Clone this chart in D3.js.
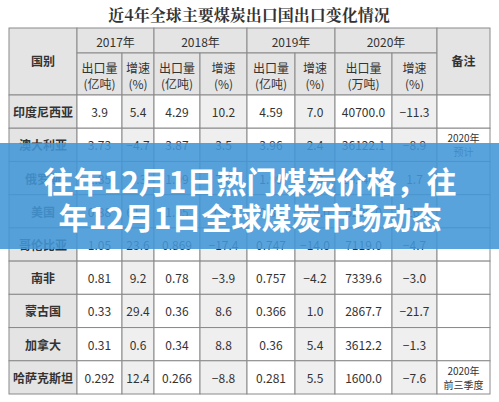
<!DOCTYPE html>
<html><head><meta charset="utf-8">
<script src="https://cdn.jsdelivr.net/npm/d3@7"></script>
<style>body{margin:0;background:#fff}svg{display:block}</style>
</head><body><svg id="c"></svg>
<script>
const years = ["2017年", "2018年", "2019年", "2020年"];
const subHeads = [["出口量", "(亿吨)"], ["增速", "(%)"], ["出口量", "(亿吨)"], ["增速", "(%)"],
                  ["出口量", "(亿吨)"], ["增速", "(%)"], ["出口量", "(万吨)"], ["增速", "(%)"]];
const countries = ["印度尼西亚", "澳大利亚", "俄罗斯", "美国", "哥伦比亚", "南非", "蒙古国", "加拿大", "哈萨克斯坦"];
const values = [
  ["3.9", "5.4", "4.29", "10.2", "4.59", "7.0", "40700.0", "−11.3"],
  ["3.73", "−4.7", "3.87", "3.5", "3.96", "2.4", "36122.1", "−8.9"],
  ["1.85", "8.3", "1.99", "7.6", "1.99", "0.0", "20240.0", "1.7"],
  ["0.88", "61.0", "1.05", "19.3", "0.85", "−19.0", "6290.0", "−26.0"],
  ["1.05", "23.6", "0.869", "−17.4", "0.747", "−14.0", "7119.0", "−4.7"],
  ["0.81", "9.2", "0.78", "−3.9", "0.757", "−4.2", "7339.6", "−3.0"],
  ["0.33", "29.4", "0.36", "8.6", "0.366", "1.0", "2867.7", "−21.7"],
  ["0.31", "0.6", "0.34", "8.8", "0.36", "5.4", "3612.2", "−1.3"],
  ["0.292", "12.4", "0.266", "−8.8", "0.281", "5.5", "1600.0", "−7.6"]
];
const notes = [null, ["2020年", "预计"], null, null, null, null, null, null, ["2020年", "前三季度"]];
const colEdges = [9, 77, 122, 154, 200, 247, 295, 335, 392, 437, 490];

const W = 499, H = 402;
const svg = d3.select("#c").attr("width", W).attr("height", H);
const font = "'Noto Sans CJK SC', sans-serif";
const rowY = d3.scaleLinear().domain([0, countries.length]).range([95, 394]);

svg.append("text").attr("x", 249).attr("y", 21).attr("text-anchor", "middle")
  .style("font-family", "'Noto Serif CJK SC', 'Noto Sans CJK SC', serif").style("font-weight", 700)
  .style("font-size", "16px").attr("fill", "#333").text("近4年全球主要煤炭出口国出口变化情况");

const g = svg.append("g");
const grey = "#e4e4e4", lite = "#efefef";
const cell = (x0, x1, y0, y1, fill) => g.append("rect").attr("x", x0).attr("y", y0)
  .attr("width", x1 - x0).attr("height", y1 - y0).attr("fill", fill)
  .attr("stroke", "#8a8a8a").attr("stroke-width", 1);
const txt = (x, y, s, size, w) => g.append("text").attr("x", x).attr("y", y).attr("text-anchor", "middle")
  .attr("dominant-baseline", "central").style("font-family", font).style("font-size", size + "px")
  .style("font-weight", w || 400).attr("fill", "#333").text(s);

// header
cell(colEdges[0], colEdges[1], 28, 95, grey);
txt(43, 60, "国别", 12, 700);
years.forEach((y, i) => {
  cell(colEdges[1 + 2 * i], colEdges[3 + 2 * i], 28, 53, grey);
  txt((colEdges[1 + 2 * i] + colEdges[3 + 2 * i]) / 2, 41, y, 12);
});
subHeads.forEach((s, i) => {
  const x0 = colEdges[1 + i], x1 = colEdges[2 + i];
  cell(x0, x1, 53, 95, grey);
  txt((x0 + x1) / 2, 67, s[0], 12);
  txt((x0 + x1) / 2, 83, s[1], 12);
});
cell(colEdges[9], colEdges[10], 28, 95, grey);
txt((colEdges[9] + colEdges[10]) / 2, 60, "备注", 12, 700);

// body
countries.forEach((c, r) => {
  const y0 = rowY(r), y1 = rowY(r + 1), ym = (y0 + y1) / 2;
  cell(colEdges[0], colEdges[1], y0, y1, grey);
  txt(43, ym, c, 12, 700);
  values[r].forEach((v, i) => {
    const x0 = colEdges[1 + i], x1 = colEdges[2 + i];
    cell(x0, x1, y0, y1, i % 2 ? lite : "#fff");
    txt((x0 + x1) / 2, ym, v, 12);
  });
  cell(colEdges[9], colEdges[10], y0, y1, "#fff");
  if (notes[r]) {
    txt((colEdges[9] + colEdges[10]) / 2, ym - 7, notes[r][0], 10);
    txt((colEdges[9] + colEdges[10]) / 2, ym + 7, notes[r][1], 10);
  }
});

// banner
svg.append("rect").attr("x", 0).attr("y", 143).attr("width", W).attr("height", 106)
  .attr("fill", "rgb(66,150,215)").attr("opacity", 0.88);
["往年12月1日热门煤炭价格，往", "年12月1日全球煤炭市场动态"].forEach((s, i) => {
  svg.append("text").attr("x", 250).attr("y", 180 + i * 36).attr("text-anchor", "middle")
    .attr("dominant-baseline", "central").style("font-family", font).style("font-weight", 700)
    .style("font-size", "30px").attr("fill", "#fff").text(s);
});
</script></body></html>
